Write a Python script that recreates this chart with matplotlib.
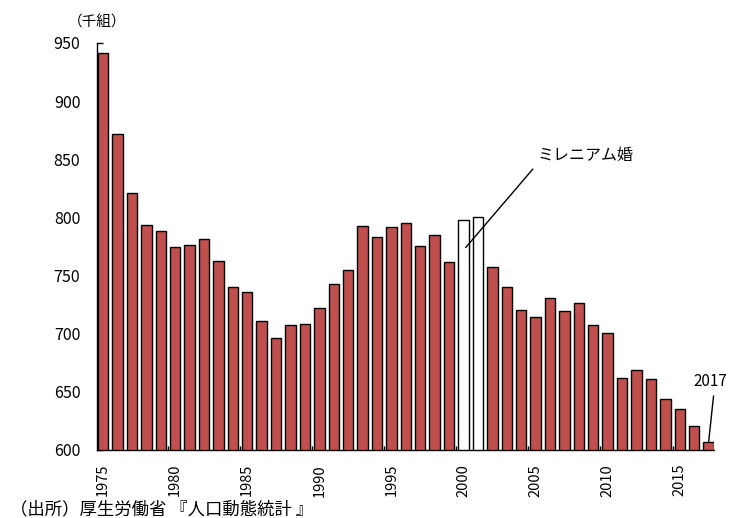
import matplotlib.pyplot as plt
from matplotlib.ticker import FixedLocator

plt.rcParams['font.family'] = ['Noto Sans CJK JP', 'DejaVu Sans']

years = list(range(1975, 2018))
# marriages, thousands of couples
marriages = [941.6, 871.5, 821.0, 793.3, 788.5, 774.7, 776.5, 781.3, 762.6, 740.0,
             735.9, 711.0, 696.2, 707.7, 708.3, 722.1, 742.3, 754.4, 792.7, 782.7,
             791.9, 795.1, 775.7, 784.6, 762.0, 798.1, 800.0, 757.3, 740.2, 720.4,
             714.3, 731.0, 719.8, 726.1, 707.7, 700.2, 661.9, 668.9, 660.6, 643.7,
             635.2, 620.5, 606.9]
millennium = [2000, 2001]
tick_years = [1975, 1980, 1985, 1990, 1995, 2000, 2005, 2010, 2015]
yticks = [600, 650, 700, 750, 800, 850, 900, 950]

colors = ['white' if y in millennium else '#C0504D' for y in years]

fig = plt.figure(figsize=(7.36, 5.18), dpi=100)
ax = fig.add_axes([0.1318, 0.1313, 0.838, 0.786])

w = 0.72
ax.bar(years, marriages, width=w, color=colors, edgecolor='black', linewidth=1.0, zorder=2)

ax.set_xlim(1975 - w / 2 - 0.06, 2017 + w / 2)
ax.set_ylim(600, 950)
ax.spines['top'].set_visible(False)
ax.spines['right'].set_visible(False)
ax.spines['left'].set_linewidth(1.0)
ax.spines['bottom'].set_linewidth(1.0)

ax.set_yticks(yticks)
ax.tick_params(axis='y', direction='in', length=4, width=1, pad=12, labelsize=11.5)
ax.set_xticks(tick_years)
ax.set_xticklabels([str(y) for y in tick_years], rotation=90, fontsize=10.5)
ax.tick_params(axis='x', which='major', length=0, pad=10)
ax.xaxis.set_minor_locator(FixedLocator([y - 0.5 for y in tick_years[1:]]))
ax.tick_params(axis='x', which='minor', direction='in', length=3, width=1)

fig.text(68 / 736, 1 - 22 / 518, '（千組）', fontsize=10.5, ha='left', va='center')
fig.text(10 / 736, 1 - 509 / 518, '（出所）厚生労働省 『人口動態統計 』', fontsize=12.5,
         ha='left', va='center')

ax.annotate('ミレニアム婚', xy=(2000.15, 774), xytext=(2005.1, 853),
            fontsize=11.5, ha='left', va='center',
            arrowprops=dict(arrowstyle='-', color='black', lw=1, shrinkA=2, shrinkB=0,
                            relpos=(0, 0)))
ax.annotate('2017', xy=(2017, 606.5), xytext=(2017.15, 658.5),
            fontsize=11, ha='center', va='center',
            arrowprops=dict(arrowstyle='-', color='black', lw=1, shrinkA=2, shrinkB=0,
                            relpos=(0.6, 0)))

fig.savefig('out.png', dpi=100)
